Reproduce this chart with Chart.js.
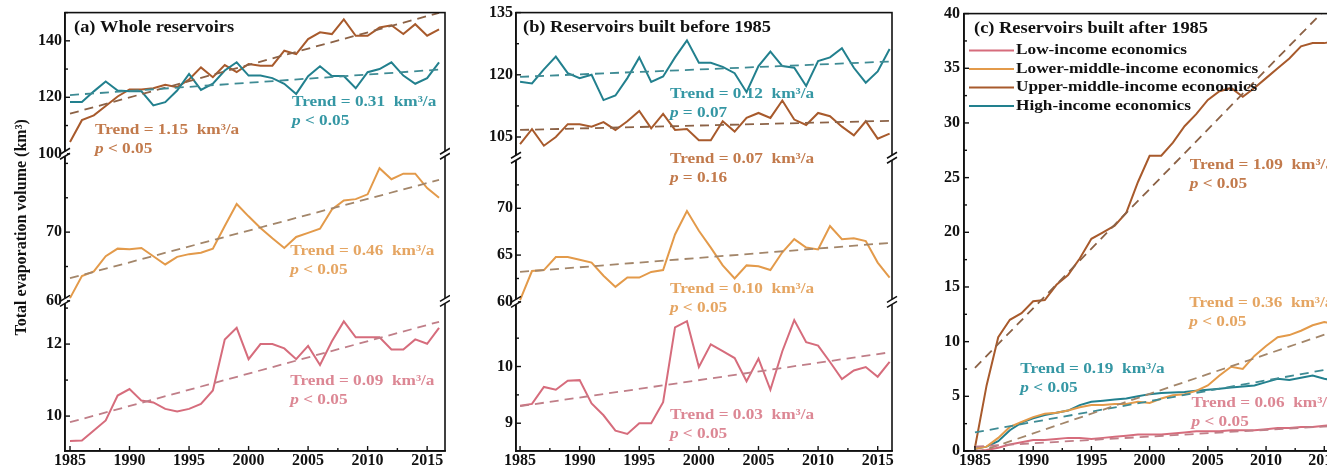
<!DOCTYPE html>
<html>
<head>
<meta charset="utf-8">
<script src="https://cdn.jsdelivr.net/npm/chart.js@4/dist/chart.umd.min.js"></script>
<style>
  html, body { margin: 0; padding: 0; background: #fff; width: 1327px; height: 472px; overflow: hidden; }
  canvas { position: absolute; top: 0; }
  #ca { left: 0; } #cb { left: 450px; } #cc { left: 880px; }
</style>
</head>
<body>
<canvas id="ca" width="450" height="472"></canvas>
<canvas id="cb" width="450" height="472"></canvas>
<canvas id="cc" width="470" height="472"></canvas>
<script>
// ---------------- DATA ----------------
const years = [1985,1986,1987,1988,1989,1990,1991,1992,1993,1994,1995,1996,1997,1998,1999,2000,
               2001,2002,2003,2004,2005,2006,2007,2008,2009,2010,2011,2012,2013,2014,2015,2016];
const trendYears = [1985, 2016];
const seriesNames = ['Low-income economics','Lower-middle-income economics','Upper-middle-income economics','High-income economics'];

// (a) Whole reservoirs
const aHigh  = [118.3,118.3,122.1,125.6,122.4,122.1,122.1,117.1,118.3,122.4,128.3,122.6,124.8,129.5,132.4,127.7,
                127.7,126.8,124.8,121.2,127.5,131.0,127.5,127.5,123.2,128.9,130.0,132.4,127.7,124.8,126.8,132.4];
const aUpper = [104.2,111.9,113.6,116.9,120.3,122.8,122.8,123.2,124.4,123.6,126.3,130.6,127.1,131.4,128.9,131.8,
                131.2,131.2,136.5,135.3,140.6,143.0,142.4,147.6,141.8,141.8,144.7,145.5,142.4,145.9,141.8,144.1];
const aLower = [60.4,63.6,64.3,66.5,67.6,67.5,67.7,66.5,65.3,66.4,66.8,67.0,67.6,70.9,74.1,72.3,
                70.6,69.1,67.7,69.3,69.9,70.5,73.3,74.6,74.8,75.5,79.3,77.7,78.5,78.5,76.4,75.0];
const aLow   = [9.31,9.32,9.60,9.88,10.57,10.75,10.43,10.38,10.20,10.13,10.20,10.34,10.71,12.13,12.45,11.58,
                12.00,12.00,11.88,11.58,11.95,11.42,12.08,12.63,12.19,12.19,12.19,11.85,11.85,12.13,12.01,12.45];
const aHighTrend  = [120.8, 129.8];
const aUpperTrend = [114.2, 149.9];
const aLowerTrend = [63.3, 77.6];
const aLowTrend   = [9.83, 12.62];

// (b) Reservoirs built before 1985
const bHigh  = [118.3,117.9,121.3,124.4,120.4,119.2,120.0,113.9,115.0,119.2,124.2,118.3,119.6,124.2,128.3,122.9,
                122.9,121.9,120.4,115.8,122.1,125.6,122.1,121.7,117.3,123.3,124.2,126.4,121.7,118.1,120.8,126.2];
const bUpper = [103.3,106.9,102.9,105.0,108.1,108.1,107.5,108.6,106.7,108.8,111.3,107.1,110.6,106.7,106.9,104.2,
                104.2,108.8,106.3,109.6,110.8,109.6,113.8,109.2,107.9,110.8,110.0,107.5,105.4,108.8,104.6,105.8];
const bLower = [60.2,63.3,63.4,64.8,64.8,64.5,64.2,62.8,61.6,62.6,62.6,63.2,63.4,67.2,69.7,67.6,
                65.8,63.9,62.5,63.9,63.8,63.4,65.3,66.7,65.8,65.6,68.1,66.7,66.8,66.5,64.2,62.6];
const bLow   = [9.31,9.34,9.64,9.59,9.75,9.76,9.35,9.14,8.87,8.81,9.00,9.00,9.37,10.69,10.80,9.99,
                10.39,10.27,10.15,9.74,10.14,9.59,10.27,10.82,10.43,10.37,10.08,9.78,9.93,9.99,9.82,10.08];
const bHighTrend  = [119.5, 123.2];
const bUpperTrend = [106.7, 108.9];
const bLowerTrend = [63.2, 66.3];
const bLowTrend   = [9.30, 10.25];

// (c) Reservoirs built after 1985
const cLow   = [0.0,0.1,0.3,0.6,0.8,1.0,1.0,1.1,1.2,1.2,1.1,1.2,1.3,1.4,1.5,1.5,
                1.5,1.6,1.7,1.8,1.8,1.8,1.9,1.9,1.9,2.0,2.1,2.1,2.2,2.2,2.3,2.4];
const cLower = [0.2,0.4,1.2,2.2,2.65,3.1,3.4,3.5,3.7,4.0,4.2,4.2,4.3,4.3,4.5,4.4,
                4.8,5.1,5.2,5.5,6.0,6.9,7.7,7.5,8.7,9.6,10.4,10.6,11.0,11.5,11.8,11.6];
const cUpper = [0.3,6.0,10.4,12.0,12.6,13.7,13.8,15.2,16.1,17.6,19.4,20.0,20.6,21.8,24.6,27.0,
                27.0,28.2,29.7,30.8,32.1,32.9,33.2,32.4,33.2,34.1,35.0,35.9,37.0,37.3,37.3,37.5];
const cHigh  = [0.2,0.4,0.9,1.9,2.6,3.0,3.3,3.5,3.7,4.2,4.5,4.6,4.7,4.8,5.0,5.2,
                5.3,5.35,5.4,5.5,5.6,5.7,5.8,5.9,6.0,6.3,6.6,6.5,6.7,6.9,6.6,6.4];
const cLowTrend   = [0.4, 2.3];
const cLowerTrend = [-0.2, 11.0];
const cUpperTrend = [7.6, 41.4];
const cHighTrend  = [1.7, 7.6];

// tick labels
const xTickLabels = [1985,1990,1995,2000,2005,2010,2015];
const xMinorTicks = [1987.5,1992.5,1997.5,2002.5,2007.5,2012.5];
const aTopTicks = [100,120,140], aTopMinor = [110,130,150];
const aMidTicks = [60,70],       aMidMinor = [65,75,80];
const aBotTicks = [10,12],       aBotMinor = [9,11,13];
const bTopTicks = [105,120,135], bTopMinor = [112.5,127.5];
const bMidTicks = [60,65,70],    bMidMinor = [62.5,67.5,72.5];
const bBotTicks = [9,10],        bBotMinor = [9.5,10.5];
const cTicks = [0,5,10,15,20,25,30,35,40];
const cMinor = [2.5,7.5,12.5,17.5,22.5,27.5,32.5,37.5];

// ---------------- STYLE ----------------
const COL = { low:'#d66c7c', lower:'#e39a4a', upper:'#a85a2c', high:'#22808e' };
const TRC = { low:'#c07e88', lower:'#a3866a', upper:'#8c6246', high:'#3e8b94' };
const TXT = { low:'#dc8794', lower:'#e5a562', upper:'#c27a4c', high:'#3597a4' };
const SERIF = '"Liberation Serif", "Times New Roman", serif';
const HS = 1.15;

const pts = (xs, ys) => xs.map((x, i) => ({x, y: ys[i]}));
function solid(label, xs, ys, col, axis) {
  return {label, data: pts(xs, ys), yAxisID: axis, borderColor: col, borderWidth: 2,
          pointRadius: 0, tension: 0, fill: false};
}
function dashed(label, ys, col, axis) {
  return {label: label + ' trend', data: pts(trendYears, ys), yAxisID: axis, borderColor: col,
          borderWidth: 1.8, borderDash: [9, 6], pointRadius: 0, tension: 0, fill: false};
}
const setTicks = arr => s => { s.ticks = arr.map(v => ({value: v})); };
const tickFont = {family: SERIF, weight: 'bold', size: 16};

function yScale(stack, weight, min, max, ticks, width, extra) {
  return Object.assign({
    type: 'linear', position: 'left', stack: stack, stackWeight: weight, min, max,
    afterBuildTicks: setTicks(ticks),
    afterFit: s => { s.width = width; },
    ticks: {font: tickFont, color: '#111', padding: 3, autoSkip: false, callback: v => String(v)},
    grid: {display: false, drawTicks: false},
    border: {display: true, color: '#111', width: 1.6}
  }, extra || {});
}
function xScale(min, max) {
  return {
    type: 'linear', position: 'bottom', min, max,
    afterBuildTicks: setTicks(xTickLabels),
    afterFit: s => { s.height = 21; },
    ticks: {font: tickFont, color: '#111', padding: 0, autoSkip: false, maxRotation: 0, callback: v => String(v)},
    grid: {display: false, drawTicks: false},
    border: {display: true, color: '#111', width: 1.6}
  };
}

// ---------------- DECOR PLUGIN ----------------
function drawText(ctx, str, x, y, font, color) {
  ctx.save();
  ctx.font = font; ctx.fillStyle = color; ctx.textBaseline = 'middle'; ctx.textAlign = 'left';
  ctx.translate(x, y); ctx.scale(HS, 1); ctx.fillText(str, 0, 0);
  const w = ctx.measureText(str).width * HS;
  ctx.restore();
  return w;
}
const decor = {
  id: 'decor',
  afterDraw(chart) {
    const o = chart.options.plugins.decor;
    const ctx = chart.ctx, a = chart.chartArea;
    ctx.save();
    ctx.strokeStyle = '#111'; ctx.lineWidth = 1.6;
    ctx.strokeRect(a.left, a.top, a.right - a.left, a.bottom - a.top);
    // inward ticks
    ctx.lineWidth = 1.4;
    const hTick = (y, len) => { ctx.beginPath(); ctx.moveTo(a.left, y); ctx.lineTo(a.left + len, y); ctx.stroke(); };
    o.yTicks.forEach(t => {
      const s = chart.scales[t.id];
      t.major.forEach(v => { if (v >= s.min && v <= s.max) hTick(s.getPixelForValue(v), 5); });
      t.minor.forEach(v => { if (v >= s.min && v <= s.max) hTick(s.getPixelForValue(v), 3); });
    });
    const xs = chart.scales.x;
    const vTick = (x, len) => { ctx.beginPath(); ctx.moveTo(x, a.bottom); ctx.lineTo(x, a.bottom - len); ctx.stroke(); };
    xTickLabels.forEach(v => vTick(xs.getPixelForValue(v), 5));
    xMinorTicks.forEach(v => vTick(xs.getPixelForValue(v), 3));
    // axis breaks
    (o.breaks || []).forEach(id => {
      const y = chart.scales[id].bottom;
      [a.left, a.right].forEach(x => {
        ctx.fillStyle = '#fff';
        ctx.fillRect(x - 2, y - 2.5, 4, 5);
        ctx.strokeStyle = '#111'; ctx.lineWidth = 1.5;
        [-2.5, 2.5].forEach(d => {
          ctx.beginPath(); ctx.moveTo(x - 5, y + d + 3); ctx.lineTo(x + 5, y + d - 3); ctx.stroke();
        });
      });
    });
    // panel title
    drawText(ctx, o.title, a.left + o.titleDx, a.top + 15, 'bold 16px ' + SERIF, '#111');
    // annotations
    o.notes.forEach(n => {
      const x = xs.getPixelForValue(n.x), y = chart.scales[n.axis].getPixelForValue(n.y);
      const f = 'bold 15px ' + SERIF;
      drawText(ctx, n.t, x, y, f, n.c);
      const w = drawText(ctx, 'p', x, y + 19, 'italic bold 15px ' + SERIF, n.c);
      drawText(ctx, n.p, x + w, y + 19, f, n.c);
    });
    // legend
    if (o.legend) {
      o.legend.forEach((it, i) => {
        const y = a.top + 37 + i * 18.5;
        ctx.strokeStyle = it.c; ctx.lineWidth = 2;
        ctx.beginPath(); ctx.moveTo(a.left + 5, y); ctx.lineTo(a.left + 50, y); ctx.stroke();
        drawText(ctx, it.t, a.left + 52, y, 'bold 15px ' + SERIF, '#111');
      });
    }
    ctx.restore();
  }
};

const base = {
  responsive: false, animation: false, maintainAspectRatio: false,
  plugins: {legend: {display: false}, tooltip: {enabled: false}}
};

// ---------------- PANEL A ----------------
// stacked y-scales are listed bottom section first
new Chart(document.getElementById('ca'), {
  type: 'line',
  data: {datasets: [
    dashed(seriesNames[3], aHighTrend, TRC.high, 'yTop'),
    dashed(seriesNames[2], aUpperTrend, TRC.upper, 'yTop'),
    dashed(seriesNames[1], aLowerTrend, TRC.lower, 'yMid'),
    dashed(seriesNames[0], aLowTrend, TRC.low, 'yBot'),
    solid(seriesNames[3], years, aHigh, COL.high, 'yTop'),
    solid(seriesNames[2], years, aUpper, COL.upper, 'yTop'),
    solid(seriesNames[1], years, aLower, COL.lower, 'yMid'),
    solid(seriesNames[0], years, aLow, COL.low, 'yBot')
  ]},
  options: Object.assign({}, base, {
    layout: {padding: {top: 10, right: 5, left: 0, bottom: 0}},
    plugins: Object.assign({}, base.plugins, {decor: {
      title: '(a) Whole reservoirs', titleDx: 9,
      yTicks: [{id:'yTop', major:aTopTicks, minor:aTopMinor},{id:'yMid', major:aMidTicks, minor:aMidMinor},{id:'yBot', major:aBotTicks, minor:aBotMinor}],
      breaks: ['yTop','yMid'],
      notes: [
        {t:'Trend = 0.31  km³/a', p:' < 0.05', x:2003.65, y:118.3, axis:'yTop', c:TXT.high},
        {t:'Trend = 1.15  km³/a', p:' < 0.05', x:1987.1, y:108.5, axis:'yTop', c:TXT.upper},
        {t:'Trend = 0.46  km³/a', p:' < 0.05', x:2003.5, y:67.2, axis:'yMid', c:TXT.lower},
        {t:'Trend = 0.09  km³/a', p:' < 0.05', x:2003.5, y:10.98, axis:'yBot', c:TXT.low}
      ]
    }}),
    scales: {
      x: xScale(1984.58, 2016.5),
      yBot: yScale('a', 151, 9.03, 13.2, aBotTicks, 65),
      yMid: yScale('a', 148, 60, 81.4, aMidTicks, 65, {title: {display: true, text: 'Total evaporation volume (km³)',
              font: {family: SERIF, weight: 'bold', size: 16}, color: '#111', padding: {top: 12, bottom: 0}}}),
      yTop: yScale('a', 142, 100, 150, aTopTicks, 65)
    }
  }),
  plugins: [decor]
});

// ---------------- PANEL B ----------------
new Chart(document.getElementById('cb'), {
  type: 'line',
  data: {datasets: [
    dashed(seriesNames[3], bHighTrend, TRC.high, 'yTop'),
    dashed(seriesNames[2], bUpperTrend, TRC.upper, 'yTop'),
    dashed(seriesNames[1], bLowerTrend, TRC.lower, 'yMid'),
    dashed(seriesNames[0], bLowTrend, TRC.low, 'yBot'),
    solid(seriesNames[3], years, bHigh, COL.high, 'yTop'),
    solid(seriesNames[2], years, bUpper, COL.upper, 'yTop'),
    solid(seriesNames[1], years, bLower, COL.lower, 'yMid'),
    solid(seriesNames[0], years, bLow, COL.low, 'yBot')
  ]},
  options: Object.assign({}, base, {
    layout: {padding: {top: 10, right: 8, left: 0, bottom: 0}},
    plugins: Object.assign({}, base.plugins, {decor: {
      title: '(b) Reservoirs built before 1985', titleDx: 7,
      yTicks: [{id:'yTop', major:bTopTicks, minor:bTopMinor},{id:'yMid', major:bMidTicks, minor:bMidMinor},{id:'yBot', major:bBotTicks, minor:bBotMinor}],
      breaks: ['yTop','yMid'],
      notes: [
        {t:'Trend = 0.12  km³/a', p:' = 0.07', x:1997.57, y:115.3, axis:'yTop', c:TXT.high},
        {t:'Trend = 0.07  km³/a', p:' = 0.16', x:1997.57, y:75.2, axis:'yMid', c:TXT.upper},
        {t:'Trend = 0.10  km³/a', p:' < 0.05', x:1997.57, y:61.4, axis:'yMid', c:TXT.lower},
        {t:'Trend = 0.03  km³/a', p:' < 0.05', x:1997.57, y:9.14, axis:'yBot', c:TXT.low}
      ]
    }}),
    scales: {
      x: xScale(1984.66, 2016.2),
      yBot: yScale('b', 150, 8.51, 11.14, bBotTicks, 66),
      yMid: yScale('b', 145, 60, 75.4, bMidTicks, 66),
      yTop: yScale('b', 146, 100, 135, bTopTicks, 66)
    }
  }),
  plugins: [decor]
});

// ---------------- PANEL C ----------------
new Chart(document.getElementById('cc'), {
  type: 'line',
  data: {datasets: [
    dashed(seriesNames[0], cLowTrend, TRC.low, 'y'),
    dashed(seriesNames[1], cLowerTrend, TRC.lower, 'y'),
    dashed(seriesNames[2], cUpperTrend, TRC.upper, 'y'),
    dashed(seriesNames[3], cHighTrend, TRC.high, 'y'),
    solid(seriesNames[0], years, cLow, COL.low, 'y'),
    solid(seriesNames[1], years, cLower, COL.lower, 'y'),
    solid(seriesNames[2], years, cUpper, COL.upper, 'y'),
    solid(seriesNames[3], years, cHigh, COL.high, 'y')
  ]},
  options: Object.assign({}, base, {
    layout: {padding: {top: 10, right: 10, left: 0, bottom: 0}},
    plugins: Object.assign({}, base.plugins, {decor: {
      title: '(c) Reservoirs built after 1985', titleDx: 10,
      yTicks: [{id:'y', major:cTicks, minor:cMinor}],
      breaks: [],
      notes: [
        {t:'Trend = 1.09  km³/a', p:' < 0.05', x:2003.45, y:26.1, axis:'y', c:TXT.upper},
        {t:'Trend = 0.36  km³/a', p:' < 0.05', x:2003.4, y:13.5, axis:'y', c:TXT.lower},
        {t:'Trend = 0.19  km³/a', p:' < 0.05', x:1988.9, y:7.5, axis:'y', c:TXT.high},
        {t:'Trend = 0.06  km³/a', p:' < 0.05', x:2003.6, y:4.35, axis:'y', c:TXT.low}
      ],
      legend: [
        {t: seriesNames[0], c: COL.low}, {t: seriesNames[1], c: COL.lower},
        {t: seriesNames[2], c: COL.upper}, {t: seriesNames[3], c: COL.high}
      ]
    }}),
    scales: {
      x: xScale(1984.06, 2016.35),
      y: yScale(undefined, 1, 0, 40, cTicks, 84, {ticks: {font: tickFont, color: '#111', padding: 4, autoSkip: false, callback: v => String(v)}})
    }
  }),
  plugins: [decor]
});
</script>
</body>
</html>
